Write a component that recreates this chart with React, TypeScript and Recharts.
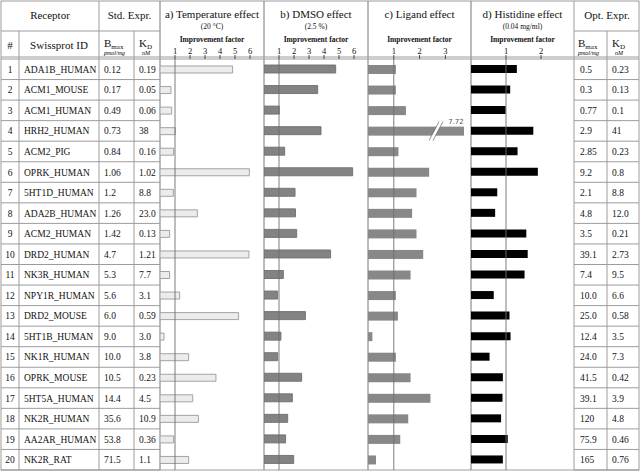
import { BarChart, Bar, XAxis, YAxis, ReferenceLine } from "recharts";

const swissprotIds = [
  "ADA1B_HUMAN", "ACM1_MOUSE", "ACM1_HUMAN", "HRH2_HUMAN", "ACM2_PIG",
  "OPRK_HUMAN", "5HT1D_HUMAN", "ADA2B_HUMAN", "ACM2_HUMAN", "DRD2_HUMAN",
  "NK3R_HUMAN", "NPY1R_HUMAN", "DRD2_MOUSE", "5HT1B_HUMAN", "NK1R_HUMAN",
  "OPRK_MOUSE", "5HT5A_HUMAN", "NK2R_HUMAN", "AA2AR_HUMAN", "NK2R_RAT",
];
const stdBmax = ["0.12", "0.17", "0.49", "0.73", "0.84", "1.06", "1.2", "1.26", "1.42", "4.7", "5.3", "5.6", "6.0", "9.0", "10.0", "10.5", "14.4", "35.6", "53.8", "71.5"];
const stdKd = ["0.19", "0.05", "0.06", "38", "0.16", "1.02", "8.8", "23.0", "0.13", "1.21", "7.7", "3.1", "0.59", "3.0", "3.8", "0.23", "4.5", "10.9", "0.36", "1.1"];
const optBmax = ["0.5", "0.3", "0.77", "2.9", "2.85", "9.2", "2.1", "4.8", "3.5", "39.1", "7.4", "10.0", "25.0", "12.4", "24.0", "41.5", "39.1", "120", "75.9", "165"];
const optKd = ["0.23", "0.13", "0.1", "41", "0.23", "0.8", "8.8", "12.0", "0.21", "2.73", "9.5", "6.6", "0.58", "3.5", "7.3", "0.42", "3.9", "4.8", "0.46", "0.76"];

// improvement factors
const temperature = [4.84, 0.73, 0.78, 1.02, 0.91, 5.96, 0.89, 2.49, 0.64, 5.93, 0.64, 1.31, 5.24, 0.27, 1.91, 3.73, 2.18, 2.56, 0.91, 1.91];
const dmso = [4.78, 3.58, 1.02, 3.8, 1.38, 5.91, 2.07, 2.1, 2.18, 4.44, 1.29, 0.91, 2.76, 1.13, 0.91, 2.51, 1.89, 1.58, 1.44, 1.98];
const ligand = [1.08, 1.08, 1.47, 7.72, 1.18, 2.37, 1.88, 1.71, 1.88, 2.14, 1.65, 1.08, 1.16, 0.17, 1.08, 1.65, 2.42, 1.56, 1.25, 0.31];
const histidine = [1.31, 1.12, 0.99, 1.78, 1.33, 1.91, 0.75, 0.69, 1.58, 1.62, 1.53, 0.65, 1.1, 1.13, 0.53, 0.91, 0.9, 0.86, 1.05, 0.91];

const tempTicks = [1, 2, 3, 4, 5, 6];
const dmsoTicks = [1, 2, 3, 4, 5, 6];
const ligandTicks = [1, 2, 3];
const histidineTicks = [1, 2];

const SERIF = '"Liberation Serif", "Times New Roman", serif';
const LINE = "#9c9c9c";
const TOP = 59;
const BOTTOM = 470;
const ROW_H = (BOTTOM - TOP) / 20;

// column edges
const X = { num: 19, id: 99, bmax: 134, kd: 160, a: 264, b: 368, c: 471, d: 574, optB: 607, right: 639 };

function BrokenBar(props: any) {
  const { x, y, width, height, fill, payload } = props;
  const broken = payload.real > payload.value;
  const bx = x + width - 28;
  return (
    <g>
      <rect x={x} y={y} width={width} height={height} fill={fill} />
      {broken && (
        <g>
          <line x1={bx - 5} y1={y + height + 5} x2={bx + 5} y2={y - 5} stroke="#fff" strokeWidth={3} />
          <line x1={bx - 7} y1={y + height + 5} x2={bx + 3} y2={y - 5} stroke="#777" strokeWidth={0.8} />
          <line x1={bx - 3} y1={y + height + 5} x2={bx + 7} y2={y - 5} stroke="#777" strokeWidth={0.8} />
          <text x={x + width - 8} y={y - 3} fontSize={7} fill="#555" textAnchor="middle" fontFamily="'DejaVu Sans', sans-serif">
            {payload.real.toFixed(2)}
          </text>
        </g>
      )}
    </g>
  );
}

function EffectChart({ left, right, pxPerUnit, values, ticks, fill, stroke, cap, barSize }: any) {
  const width = right - left;
  const rows = swissprotIds.map((id, i) => ({ id, value: Math.min(values[i], cap ?? 99), real: values[i] }));
  return (
    <div style={{ position: "absolute", left, top: 0 }}>
      <BarChart width={width} height={BOTTOM} data={rows} layout="vertical" margin={{ top: TOP - 15, right: 0, bottom: 0, left: 0 }} barCategoryGap={0}>
        <XAxis
          type="number"
          orientation="top"
          domain={[0, width / pxPerUnit]}
          ticks={ticks}
          interval={0}
          height={15}
          axisLine={false}
          tickLine={{ stroke: "#222", strokeWidth: 0.8 }}
          tickSize={4}
          tickMargin={1}
          tick={{ fontSize: 8.5, fill: "#111", fontFamily: SERIF }}
          allowDataOverflow
        />
        <YAxis type="category" dataKey="id" hide />
        <Bar
          dataKey="value"
          fill={fill}
          stroke={stroke}
          strokeWidth={stroke ? 0.9 : 0}
          barSize={barSize}
          isAnimationActive={false}
          shape={cap ? (p: any) => <BrokenBar {...p} /> : undefined}
        />
        <ReferenceLine x={1} stroke="#6e6e6e" strokeWidth={0.9} />
      </BarChart>
    </div>
  );
}

const rowY = (i: number) => TOP + (i + 0.5) * ROW_H + 3.5;

export default function App() {
  const cell = { fontSize: 9.5, fill: "#111", fontFamily: SERIF };
  const head = { fontSize: 11, fill: "#111", fontFamily: SERIF };
  const small = { fontSize: 7.5, fill: "#111", fontFamily: SERIF };
  const rowLines = Array.from({ length: 21 }, (_, i) => TOP + i * ROW_H);
  const charts = [
    { left: X.kd, right: X.a, title: "a) Temperature effect", sub: "(20 °C)" },
    { left: X.a, right: X.b, title: "b) DMSO effect", sub: "(2.5 %)" },
    { left: X.b, right: X.c, title: "c) Ligand effect", sub: "" },
    { left: X.c, right: X.d, title: "d) Histidine effect", sub: "(0.04 mg/ml)" },
  ];
  return (
    <div style={{ position: "absolute", left: 0, top: 0, width: 640, height: 474, background: "#fff" }}>
      <svg width={640} height={474} style={{ position: "absolute", left: 0, top: 0 }}>
        {/* outer + vertical lines */}
        <rect x={1} y={1} width={638} height={BOTTOM - 1} fill="none" stroke={LINE} strokeWidth={1} />
        <line x1={X.num} y1={31} x2={X.num} y2={BOTTOM} stroke={LINE} />
        <line x1={X.id} y1={1} x2={X.id} y2={BOTTOM} stroke={LINE} />
        <line x1={X.bmax} y1={31} x2={X.bmax} y2={BOTTOM} stroke={LINE} />
        <line x1={X.kd} y1={1} x2={X.kd} y2={BOTTOM} stroke="#777" />
        <line x1={X.a} y1={1} x2={X.a} y2={BOTTOM} stroke="#777" />
        <line x1={X.b} y1={1} x2={X.b} y2={BOTTOM} stroke="#777" />
        <line x1={X.c} y1={1} x2={X.c} y2={BOTTOM} stroke="#777" />
        <line x1={X.d} y1={1} x2={X.d} y2={BOTTOM} stroke={LINE} />
        <line x1={X.optB} y1={31} x2={X.optB} y2={BOTTOM} stroke={LINE} />
        {/* header lines */}
        <line x1={1} y1={31} x2={X.kd} y2={31} stroke={LINE} />
        <line x1={X.d} y1={31} x2={639} y2={31} stroke={LINE} />
        <line x1={1} y1={TOP - 2} x2={639} y2={TOP - 2} stroke={LINE} />
        <line x1={1} y1={TOP} x2={639} y2={TOP} stroke={LINE} />
        {/* row lines */}
        {rowLines.slice(1).map((y, i) => (
          <g key={i}>
            <line x1={1} y1={y} x2={X.kd} y2={y} stroke={LINE} />
            <line x1={X.d} y1={y} x2={639} y2={y} stroke={LINE} />
          </g>
        ))}
        {/* header text */}
        <text x={50} y={19} textAnchor="middle" {...head}>Receptor</text>
        <text x={(X.id + X.kd) / 2} y={19} textAnchor="middle" {...head}>Std. Expr.</text>
        <text x={(X.d + 640) / 2} y={19} textAnchor="middle" {...head}>Opt. Expr.</text>
        <text x={10} y={49} textAnchor="middle" {...head}>#</text>
        <text x={59} y={49} textAnchor="middle" {...head}>Swissprot ID</text>
        {[{ x: X.id + 5, kd: X.bmax + 5 }, { x: X.d + 4, kd: X.optB + 5 }].map((h, i) => (
          <g key={i}>
            <text x={h.x} y={47} {...head}>B<tspan fontSize={7} dy={2}>max</tspan></text>
            <text x={h.x} y={55} fontSize={6} fontStyle="italic" fontFamily={SERIF}>pmol/mg</text>
            <text x={h.kd} y={47} {...head}>K<tspan fontSize={7} dy={2}>D</tspan></text>
            <text x={h.kd + 3} y={55} fontSize={6} fontStyle="italic" fontFamily={SERIF}>nM</text>
          </g>
        ))}
        {charts.map((c) => (
          <g key={c.title}>
            <text x={(c.left + c.right) / 2} y={18} textAnchor="middle" {...head}>{c.title}</text>
            {c.sub && <text x={(c.left + c.right) / 2} y={29} textAnchor="middle" {...small}>{c.sub}</text>}
            <text x={(c.left + c.right) / 2} y={42} textAnchor="middle" {...small} fontWeight="bold">Improvement factor</text>
          </g>
        ))}
        {/* table cells */}
        {swissprotIds.map((id, i) => (
          <g key={id + i}>
            <text x={10} y={rowY(i)} textAnchor="middle" {...cell}>{i + 1}</text>
            <text x={X.num + 5} y={rowY(i)} {...cell}>{id}</text>
            <text x={X.id + 5} y={rowY(i)} {...cell}>{stdBmax[i]}</text>
            <text x={X.bmax + 5} y={rowY(i)} {...cell}>{stdKd[i]}</text>
            <text x={X.d + 6} y={rowY(i)} {...cell}>{optBmax[i]}</text>
            <text x={X.optB + 5} y={rowY(i)} {...cell}>{optKd[i]}</text>
          </g>
        ))}
      </svg>
      <EffectChart left={X.kd} right={X.a} pxPerUnit={15} values={temperature} ticks={tempTicks} fill="#ececec" stroke="#9a9a9a" barSize={7} />
      <EffectChart left={X.a} right={X.b} pxPerUnit={15} values={dmso} ticks={dmsoTicks} fill="#838383" stroke="#6f6f6f" barSize={8} />
      <EffectChart left={X.b} right={X.c} pxPerUnit={25.8} values={ligand} ticks={ligandTicks} fill="#888888" cap={3.72} barSize={9} />
      <EffectChart left={X.c} right={X.d} pxPerUnit={35} values={histidine} ticks={histidineTicks} fill="#000000" barSize={8} />
    </div>
  );
}
